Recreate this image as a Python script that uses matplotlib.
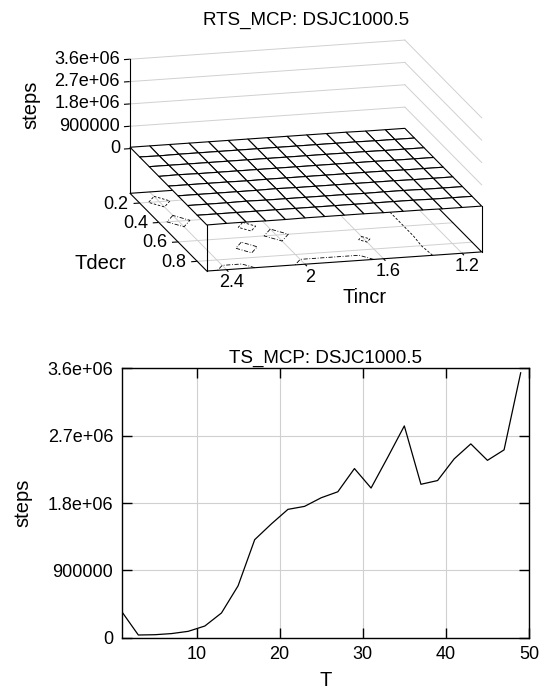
import numpy as np
import matplotlib
matplotlib.use('Agg')
import matplotlib.pyplot as plt
from matplotlib.transforms import ScaledTranslation
from mpl_toolkits.mplot3d import proj3d

plt.rcParams['font.family'] = ['Liberation Sans', 'DejaVu Sans']

# RTS_MCP: steps over the (Tincr, Tdecr) grid
tincr = [1.1, 1.2, 1.3, 1.4, 1.5, 1.6, 1.7, 1.8, 1.9, 2.0, 2.1, 2.2, 2.3, 2.4, 2.5]
tdecr = [0.1, 0.2, 0.3, 0.4, 0.5, 0.6, 0.7, 0.8, 0.9]
rts_steps = [
    [45000, 45000, 45000, 55000, 55000, 55000, 55000, 55000, 55000, 55000, 55000, 55000, 55000, 55000, 55000],
    [45000, 45000, 45000, 55000, 55000, 55000, 55000, 55000, 55000, 55000, 55000, 55000, 55000, 44000, 55000],
    [45000, 45000, 45000, 55000, 55000, 55000, 55000, 55000, 55000, 55000, 55000, 55000, 55000, 55000, 55000],
    [45000, 45000, 45000, 55000, 55000, 55000, 55000, 55000, 55000, 55000, 55000, 55000, 55000, 67000, 55000],
    [45000, 45000, 45000, 55000, 55000, 55000, 55000, 55000, 55000, 55000, 46000, 55000, 55000, 55000, 55000],
    [45000, 45000, 45000, 55000, 55000, 55000, 55000, 55000, 55000, 68000, 55000, 55000, 55000, 55000, 55000],
    [45000, 45000, 45000, 55000, 55000, 48000, 55000, 55000, 55000, 55000, 55000, 66000, 55000, 55000, 55000],
    [45000, 45000, 43000, 55000, 55000, 55000, 55000, 55000, 55000, 55000, 55000, 55000, 55000, 55000, 55000],
    [45000, 45000, 45000, 55000, 55000, 55000, 65000, 65000, 65000, 65000, 55000, 55000, 64000, 64000, 55000],
]
contour_levels = [50000, 60000]

# TS_MCP: steps against T
ts_T = [1, 3, 5, 7, 9, 11, 13, 15, 17, 19, 21, 23, 25, 27, 29, 31, 33, 35, 37, 39, 41, 43, 45, 47, 49]
ts_steps = [350000, 36000, 40000, 55000, 85000, 156000, 330000, 693000, 1310000, 1520000,
            1715000, 1755000, 1870000, 1950000, 2260000, 2000000, 2410000, 2830000, 2050000,
            2100000, 2390000, 2590000, 2370000, 2510000, 3540000]

z_ticks = [0, 900000, 1800000, 2700000, 3600000]
z_labels = ['0', '900000', '1.8e+06', '2.7e+06', '3.6e+06']
tincr_ticks = [1.2, 1.6, 2.0, 2.4]
tincr_labels = ['1.2', '1.6', '2', '2.4']
tdecr_ticks = [0.2, 0.4, 0.6, 0.8]
tdecr_labels = ['0.2', '0.4', '0.6', '0.8']
T_ticks = [10, 20, 30, 40, 50]

W, H = 542, 693
TICK = 13
TITLE = 13.5
LAB = 14.5
GRID = '#d0d0d0'

fig = plt.figure(figsize=(W / 100, H / 100), dpi=100)

# ---- top: 3d surface with base contours ----
S = 425
ax = fig.add_axes([87.6 / W, 319.2 / H, S / W, S / H], projection='3d', computed_zorder=False)
ax.set_proj_type('ortho')
ax.view_init(elev=15.4, azim=75.3)
ax.set_box_aspect((281.3, 299.6, 137.7))
ax.patch.set_alpha(0)

xmin, xmax = tincr[0], tincr[-1]
ymin, ymax = tdecr[0], tdecr[-1]
zmax = z_ticks[-1]
zmin = -0.5 * zmax   # gnuplot ticslevel 0.5
ax.set_xlim(xmin, xmax)
ax.set_ylim(ymin, ymax)
ax.set_zlim(zmin, zmax)

X, Y = np.meshgrid(tincr, tdecr)
Z = np.array(rts_steps, dtype=float)

# base grid
for xv in tincr_ticks:
    ax.plot([xv, xv], [ymin, ymax], [zmin, zmin], color=GRID, lw=0.7, zorder=0.5)
for yv in tdecr_ticks:
    ax.plot([xmin, xmax], [yv, yv], [zmin, zmin], color=GRID, lw=0.7, zorder=0.5)
# wall grid
for zv in z_ticks[1:]:
    ax.plot([xmax, xmin], [ymin, ymin], [zv, zv], color=GRID, lw=0.7, zorder=0.5)
    ax.plot([xmin, xmin], [ymin, ymax], [zv, zv], color=GRID, lw=0.7, zorder=0.5)

cs = ax.contour(X, Y, Z, levels=contour_levels, zdir='z', offset=zmin, colors='black',
                linewidths=0.6, linestyles=[(0, (3, 2)), (0, (5, 2, 1, 2))])
cs.set_zorder(1)

# border of the base and the verticals
k = dict(color='black', lw=0.8, zorder=1.5)
ax.plot([xmin, xmax, xmax, xmin, xmin], [ymin, ymin, ymax, ymax, ymin], [zmin] * 5, **k)
ax.plot([xmax, xmax], [ymin, ymin], [zmin, zmax], **k)
ax.plot([xmax, xmax], [ymax, ymax], [zmin, Z[-1, -1]], **k)
ax.plot([xmin, xmin], [ymax, ymax], [zmin, Z[-1, 0]], **k)

ax.plot_surface(X, Y, Z, rstride=1, cstride=1, color='white', edgecolor='black',
                linewidth=0.8, shade=False, zorder=2)

ax.grid(False)
for axis in (ax.xaxis, ax.yaxis, ax.zaxis):
    axis.set_pane_color((1, 1, 1, 0))
    axis.line.set_linewidth(0)
    axis._axinfo['tick']['inward_factor'] = 0.25
    axis._axinfo['tick']['outward_factor'] = 0.0

ax.set_xticks(tincr_ticks)
ax.set_yticks(tdecr_ticks)
ax.set_zticks(z_ticks)
ax.tick_params(labelsize=0, labelcolor='none')
ax.set_xticklabels([])
ax.set_yticklabels([])
ax.set_zticklabels([])

# tick labels placed gnuplot-style next to the projected tick positions
M = ax.get_proj()


def label3d(x, y, z, s, dx, dy, **kw):
    px, py, _ = proj3d.proj_transform(x, y, z, M)
    ax.text2D(px, py, s, fontsize=TICK, zorder=5,
              transform=ax.transData + ScaledTranslation(dx / 100, dy / 100, fig.dpi_scale_trans),
              **kw)


for v, s in zip(z_ticks, z_labels):
    label3d(xmax, ymin, v, s, -10, 0, ha='right', va='center')
for v, s in zip(tdecr_ticks, tdecr_labels):
    label3d(xmax, v, zmin, s, -11, -1, ha='right', va='center')
for v, s in zip(tincr_ticks, tincr_labels):
    label3d(v, ymax, zmin, s, 5, -13, ha='center', va='center')

fig.text(306 / W, 1 - 20 / H, 'RTS_MCP: DSJC1000.5', ha='center', va='center', fontsize=TITLE)
fig.text(31 / W, 1 - 105 / H, 'steps', rotation=90, ha='center', va='center', fontsize=LAB)
fig.text(100 / W, 1 - 263 / H, 'Tdecr', ha='center', va='center', fontsize=LAB)
fig.text(364.5 / W, 1 - 298 / H, 'Tincr', ha='center', va='center', fontsize=LAB)

# ---- bottom: line plot ----
l, r, t, b = 121.7, 529.0, 368.3, 637.7
ax2 = fig.add_axes([l / W, 1 - b / H, (r - l) / W, (b - t) / H])
ax2.plot(ts_T, ts_steps, color='black', lw=0.9)
ax2.set_xlim(1, 50)
ax2.set_ylim(0, 3600000)
ax2.set_xticks(T_ticks)
ax2.set_yticks(z_ticks)
ax2.set_yticklabels(z_labels)
ax2.grid(True, color=GRID, lw=0.8)
ax2.tick_params(direction='in', top=True, right=True, length=7, width=1, labelsize=TICK, pad=6)
for sp in ax2.spines.values():
    sp.set_linewidth(1.0)
ax2.set_title('TS_MCP: DSJC1000.5', fontsize=TITLE, pad=4)
ax2.set_xlabel('T', fontsize=LAB)
ax2.set_ylabel('steps', fontsize=LAB)
ax2.xaxis.set_label_coords(0.5, -0.125)
ax2.yaxis.set_label_coords(-0.218, 0.5)

fig.savefig('out.png', dpi=100)
